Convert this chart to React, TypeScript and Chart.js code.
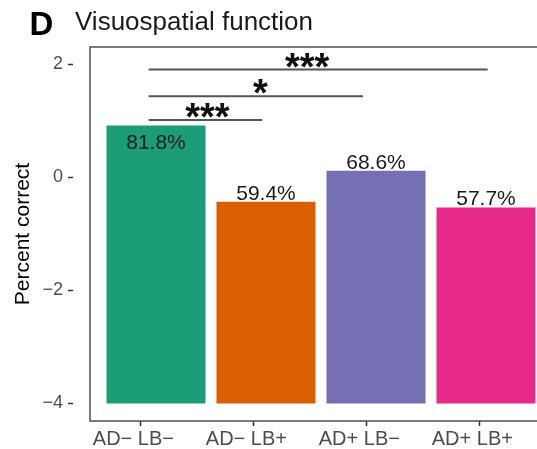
import React, { useEffect, useRef } from "react";
import { Chart, registerables } from "chart.js";

Chart.register(...registerables);

const FONT = '"Liberation Sans", Arial, Helvetica, sans-serif';

// Groups and their positions on the x axis
const groups = ["AD\u2212 LB\u2212", "AD\u2212 LB+", "AD+ LB\u2212", "AD+ LB+"];
const groupPos = [1, 2, 3, 4];

// Mean score per group (bars rise from the baseline)
const zScores = [0.92, -0.43, 0.12, -0.53];
const barBase = -4;
const pctLabels = ["81.8%", "59.4%", "68.6%", "57.7%"];
const labelInside = [true, false, false, false];
const barColors = ["#1b9e77", "#d95f02", "#7570b3", "#e7298a"];

// y ticks
const yTicks = [-4, -2, 0, 2];

// Pairwise comparison brackets
const sigXMin = [0.933, 0.933, 0.933];
const sigXMax = [1.966, 2.882, 4.015];
const sigY = [1.02, 1.44, 1.91];
const sigLabels = ["***", "*", "***"];
const sigLabelX = [1.468, 1.948, 2.374];

const fmtTick = (v: number) => (v < 0 ? "\u2212" + Math.abs(v) : String(v));

export default function App() {
  const ref = useRef<HTMLCanvasElement>(null);

  useEffect(() => {
    const canvas = ref.current;
    if (!canvas) return;

    const barData = groupPos.map((x, i) => ({ x, y: [barBase, zScores[i]] }));
    const bracketSets = sigY.map((y, i) => ({
      type: "line" as const,
      data: [
        { x: sigXMin[i], y },
        { x: sigXMax[i], y },
      ],
      borderColor: "#555555",
      borderWidth: 2,
      pointRadius: 0,
      xAxisID: "x",
      yAxisID: "y",
      order: 0,
    }));

    const annotate = {
      id: "annotate",
      afterDatasetsDraw(chart: any) {
        const ctx = chart.ctx as CanvasRenderingContext2D;
        const xs = chart.scales.x;
        const ys = chart.scales.y;
        const a = chart.chartArea;
        ctx.save();

        // value labels
        ctx.font = `21px ${FONT}`;
        ctx.fillStyle = "#1a1a1a";
        ctx.textAlign = "center";
        ctx.textBaseline = "alphabetic";
        const meta = chart.getDatasetMeta(0);
        meta.data.forEach((bar: any, i: number) => {
          const m = ctx.measureText(pctLabels[i]);
          const top = ys.getPixelForValue(zScores[i]);
          const cy = labelInside[i] ? top + 16 : top - 9;
          const base = cy + (m.actualBoundingBoxAscent - m.actualBoundingBoxDescent) / 2;
          ctx.fillText(pctLabels[i], bar.x, base);
        });

        // significance stars
        ctx.font = `bold 38px ${FONT}`;
        ctx.fillStyle = "#111111";
        sigLabels.forEach((s, i) => {
          const m = ctx.measureText(s);
          const cy = ys.getPixelForValue(sigY[i]) - 9.5;
          const base = cy + (m.actualBoundingBoxAscent - m.actualBoundingBoxDescent) / 2;
          ctx.fillText(s, xs.getPixelForValue(sigLabelX[i]), base);
        });

        // panel border
        ctx.strokeStyle = "#4d4d4d";
        ctx.lineWidth = 1.5;
        ctx.strokeRect(a.left, a.top, a.right - a.left, a.bottom - a.top);

        // heading
        ctx.textAlign = "left";
        ctx.fillStyle = "#000000";
        ctx.font = `bold 33px ${FONT}`;
        ctx.fillText("D", 29.5, 35);
        ctx.fillStyle = "#1a1a1a";
        ctx.font = `26px ${FONT}`;
        ctx.fillText("Visuospatial function", 75, 30);
        ctx.restore();
      },
    };

    const chart = new Chart(canvas, {
      type: "bar",
      data: {
        datasets: [
          {
            type: "bar",
            data: barData as any,
            backgroundColor: barColors,
            borderWidth: 0,
            barPercentage: 0.9,
            categoryPercentage: 1,
            xAxisID: "x",
            yAxisID: "y",
            order: 1,
          } as any,
          ...(bracketSets as any[]),
        ],
      },
      options: {
        animation: false,
        responsive: false,
        devicePixelRatio: 1,
        layout: { padding: { left: 0, top: 47, right: 8, bottom: 0 } },
        plugins: {
          legend: { display: false },
          tooltip: { enabled: false },
        },
        scales: {
          x: {
            type: "linear",
            min: 0.4,
            max: 4.6,
            offset: false,
            display: false,
            grid: { offset: false },
            afterBuildTicks: (s: any) => {
              s.ticks = groupPos.map((v) => ({ value: v }));
            },
          },
          xt: {
            type: "linear",
            position: "bottom",
            min: 0.554,
            max: 4.643,
            offset: false,
            afterBuildTicks: (s: any) => {
              s.ticks = groupPos.map((v) => ({ value: v }));
            },
            afterFit: (s: any) => {
              s.height = 28;
            },
            border: { display: false },
            grid: {
              offset: false,
              drawOnChartArea: false,
              drawTicks: true,
              tickLength: 5,
              tickColor: "#333333",
              tickWidth: 1.5,
            },
            ticks: {
              callback: (v: any) => groups[groupPos.indexOf(Number(v))],
              color: "#4d4d4d",
              font: { family: FONT, size: 20 },
              padding: 1,
              labelOffset: -7,
              maxRotation: 0,
              autoSkip: false,
            },
          },
          y: {
            type: "linear",
            min: -4.31,
            max: 2.31,
            afterBuildTicks: (s: any) => {
              s.ticks = yTicks.map((v) => ({ value: v }));
            },
            afterFit: (s: any) => {
              s.width = 90;
            },
            border: { display: false },
            grid: {
              drawOnChartArea: false,
              tickLength: 22,
              tickBorderDash: [5, 100],
              tickColor: "#333333",
              tickWidth: 1.5,
            },
            ticks: {
              callback: (v: any) => fmtTick(Number(v)),
              color: "#4d4d4d",
              font: { family: FONT, size: 18 },
              padding: 5,
            },
            title: {
              display: true,
              text: "Percent correct",
              color: "#000000",
              font: { family: FONT, size: 21 },
              padding: { top: 11, bottom: 0 },
            },
          },
        } as any,
      },
      plugins: [annotate],
    });

    return () => chart.destroy();
  }, []);

  return (
    <div style={{ position: "fixed", left: 0, top: 0, width: "100vw", height: "100vh", overflow: "hidden", background: "#fff" }}>
      <div style={{ width: 560, height: 449 }}>
        <canvas ref={ref} width={560} height={449} style={{ display: "block" }} />
      </div>
    </div>
  );
}
